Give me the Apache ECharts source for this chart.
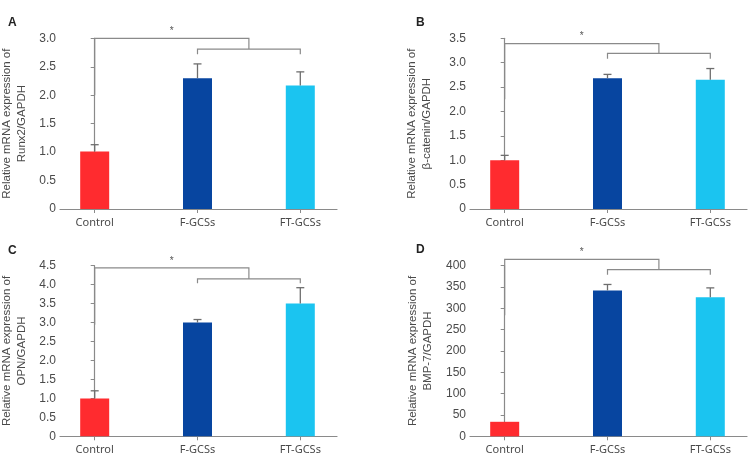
<!DOCTYPE html>
<html><head><meta charset="utf-8">
<script src="https://cdn.jsdelivr.net/npm/echarts@6/dist/echarts.min.js"></script>
<style>html,body{margin:0;padding:0;background:#fff}#c{width:753px;height:458px}</style>
</head><body><div id="c"></div>
<script>
const categories = ['Control', 'F-GCSs', 'FT-GCSs'];
const colors = ['#FF2B2F', '#0745A0', '#1BC4F0'];
const panelLetters = ['A', 'B', 'C', 'D'];
const yTitles = [
  'Relative mRNA expression of\nRunx2/GAPDH',
  'Relative mRNA expression of\nβ-catenin/GAPDH',
  'Relative mRNA expression of\nOPN/GAPDH',
  'Relative mRNA expression of\nBMP-7/GAPDH'
];
const yMax = [3.0, 3.5, 4.5, 400];
const yInterval = [0.5, 0.5, 0.5, 50];
// bar means
const runx2 = [1.01, 2.30, 2.17];
const bcatenin = [1.00, 2.68, 2.65];
const opn = [1.00, 3.00, 3.50];
const bmp7 = [34, 342, 326];
// upper end of error bars (null = none visible)
const runx2Err = [1.13, 2.55, 2.41];
const bcateninErr = [1.10, 2.76, 2.88];
const opnErr = [1.20, 3.08, 3.92];
const bmp7Err = [null, 356, 348];
// significance brackets: [control leg bottom, top line, inner line, inner end ticks]
const bracketA = [2.0, 3.0, 2.81, 2.72];
const bracketB = [2.25, 3.39, 3.19, 3.08];
const bracketC = [2.94, 4.44, 4.15, 4.04];
const bracketD = [284, 415, 391, 379];

const means = [runx2, bcatenin, opn, bmp7];
const errs = [runx2Err, bcateninErr, opnErr, bmp7Err];
const brackets = [bracketA, bracketB, bracketC, bracketD];

const gridPos = [
  {left: 60, top: 38.3, width: 277, height: 170.7},
  {left: 470, top: 38.3, width: 277, height: 170.7},
  {left: 60, top: 265.7, width: 277, height: 170.6},
  {left: 470, top: 265.7, width: 277, height: 170.6}
];
const nameGaps = [31, 36, 31, 35];
const letterPos = [[8, 17], [416, 17], [8, 245], [416, 244]];

const axisGray = '#8a8a8a';
const textGray = '#4a4a4a';
const chart = echarts.init(document.getElementById('c'), null, {renderer: 'canvas'});

const grids = [], xAxes = [], yAxes = [], series = [], graphics = [];
for (let p = 0; p < 4; p++) {
  grids.push(Object.assign({containLabel: false, outerBoundsMode: 'none'}, gridPos[p]));
  xAxes.push({
    type: 'value', gridIndex: p, min: -0.3375, max: 2.357,
    splitLine: {show: false},
    axisLine: {show: true, lineStyle: {color: axisGray, width: 1.2}},
    axisTick: {show: true, customValues: [0, 1, 2], length: 4, lineStyle: {color: axisGray}},
    axisLabel: {show: true, customValues: [0, 1, 2], margin: 8,
      formatter: v => categories[Math.round(v)] || '',
      color: textGray, fontSize: 11, fontFamily: 'Noto Sans'}
  });
  yAxes.push({
    type: 'value', gridIndex: p, min: 0, max: yMax[p], interval: yInterval[p],
    splitLine: {show: false},
    axisLine: {show: true, lineStyle: {color: axisGray, width: 1.2}},
    axisTick: {show: true, length: 4, lineStyle: {color: axisGray}},
    axisLabel: {color: textGray, fontSize: 12, fontFamily: 'Liberation Sans', margin: 4,
      formatter: v => (v === 0 ? '0' : (yMax[p] >= 100 ? String(v) : v.toFixed(1)))},
    name: yTitles[p], nameLocation: 'middle', nameGap: nameGaps[p], nameRotate: 90,
    nameTextStyle: {color: textGray, fontSize: 11.5, fontFamily: 'Liberation Sans', lineHeight: 15, align: 'center'}
  });
  // bars (custom rects through the axis scales)
  series.push({
    type: 'custom', xAxisIndex: p, yAxisIndex: p, animation: false, z: 2,
    data: means[p].map((v, i) => [i, v]),
    renderItem: (params, api) => {
      const x = api.value(0), top = api.coord([x, api.value(1)]), base = api.coord([x, 0]);
      return {type: 'rect', shape: {x: top[0] - 14.5, y: top[1], width: 29, height: base[1] - top[1]},
        style: {fill: colors[x]}};
    }
  });
  series.push({
    type: 'custom', xAxisIndex: p, yAxisIndex: p, animation: false, z: 3,
    data: means[p].map((v, i) => [i, v, errs[p][i]]).filter(d => d[2] != null),
    renderItem: (params, api) => {
      const x = api.value(0), lo = api.coord([x, api.value(1)]), hi = api.coord([x, api.value(2)]);
      const style = {stroke: '#6e6e6e', lineWidth: 1.3, fill: null};
      return {type: 'group', children: [
        {type: 'line', shape: {x1: lo[0], y1: lo[1], x2: hi[0], y2: hi[1]}, style},
        {type: 'line', shape: {x1: hi[0] - 4, y1: hi[1], x2: hi[0] + 4, y2: hi[1]}, style}
      ]};
    }
  });
  series.push({
    type: 'custom', xAxisIndex: p, yAxisIndex: p, animation: false, z: 3,
    data: [brackets[p]],
    renderItem: (params, api) => {
      const b0 = api.value(0), b1 = api.value(1), b2 = api.value(2), b3 = api.value(3);
      const c = (x, y) => api.coord([x, y]);
      const style = {stroke: '#8a8a8a', lineWidth: 1.2, fill: null};
      const outer = [c(0, b0), c(0, b1), c(1.5, b1), c(1.5, b2)];
      const inner = [c(1, b3), c(1, b2), c(2, b2), c(2, b3)];
      const star = c(0.75, b1);
      return {type: 'group', children: [
        {type: 'polyline', shape: {points: outer}, style},
        {type: 'polyline', shape: {points: inner}, style},
        {type: 'text', style: {text: '*', x: star[0], y: star[1] - 2, align: 'center', verticalAlign: 'bottom',
          fill: '#555', fontSize: 10, fontFamily: 'Liberation Sans'}}
      ]};
    }
  });
  graphics.push({type: 'text', left: letterPos[p][0], top: letterPos[p][1],
    style: {text: panelLetters[p], fill: '#222', font: 'bold 12px "Liberation Sans"'}});
}

chart.setOption({
  animation: false,
  backgroundColor: '#ffffff',
  grid: grids, xAxis: xAxes, yAxis: yAxes, series: series, graphic: graphics
});
</script></body></html>
